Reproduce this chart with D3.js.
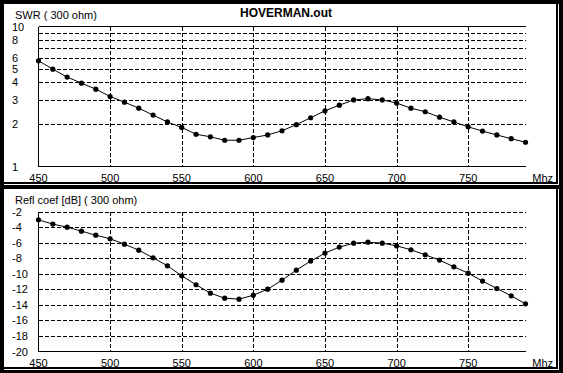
<!DOCTYPE html>
<html><head><meta charset="utf-8">
<script src="https://cdn.jsdelivr.net/npm/d3@7"></script>
<style>
html,body{margin:0;padding:0;background:#000;}
svg{display:block;}
text{font-family:"Liberation Sans",Arial,sans-serif;fill:#000;}
</style></head>
<body>
<script>
const title = "HOVERMAN.out";
const freqs = [450,460,470,480,490,500,510,520,530,540,550,560,570,580,590,600,610,620,630,640,650,660,670,680,690,700,710,720,730,740,750,760,770,780,790];
const swr = [5.69,4.96,4.35,3.94,3.57,3.16,2.88,2.61,2.33,2.08,1.90,1.70,1.63,1.54,1.54,1.61,1.68,1.80,1.99,2.23,2.50,2.74,2.99,3.05,2.99,2.84,2.61,2.46,2.25,2.08,1.92,1.79,1.68,1.58,1.49];
const refl = [-3.07,-3.62,-4.01,-4.53,-5.04,-5.51,-6.20,-6.97,-7.95,-8.98,-10.27,-11.42,-12.5,-13.14,-13.27,-12.76,-11.99,-10.83,-9.54,-8.38,-7.35,-6.58,-6.07,-5.94,-6.07,-6.41,-6.92,-7.57,-8.25,-9.11,-9.93,-10.95,-11.9,-12.84,-13.87];
const xTicks = [450,500,550,600,650,700,750];
const swrTicks = [1,2,3,4,5,6,8,10];
const swrGrid = [2,3,4,5,6,7,8,9];
const reflTicks = [-2,-4,-6,-8,-10,-12,-14,-16,-18,-20];
const xUnit = "Mhz";
const swrLabel = "SWR ( 300 ohm)";
const reflLabel = "Refl coef [dB] ( 300 ohm)";

const W = 563, H = 373;
const svg = d3.select("body").append("svg").attr("width", W).attr("height", H);
svg.append("rect").attr("width", W).attr("height", H).attr("fill", "#000");

const x = d3.scaleLinear().domain([450, 790]).range([38.5, 525.5]);

function panel(top, bottom, yScale, yTicks, yGrid, values, label, topDashed, showTitle) {
  const g = svg.append("g");
  g.append("rect").attr("x", 4).attr("y", top).attr("width", 552).attr("height", bottom - top).attr("fill", "#fff");
  // highlight lines
  g.append("line").attr("x1", 4).attr("x2", 559).attr("y1", bottom + 2.5).attr("y2", bottom + 2.5).attr("stroke", "#fff");
  g.append("line").attr("x1", 558.5).attr("x2", 558.5).attr("y1", top).attr("y2", bottom + 3).attr("stroke", "#fff");

  const [y0, y1] = yScale.range();
  // horizontal grid
  g.selectAll(".hg").data(yGrid).join("line")
    .attr("x1", x(450)).attr("x2", x(790))
    .attr("y1", d => Math.round(yScale(d)) + 0.5).attr("y2", d => Math.round(yScale(d)) + 0.5)
    .attr("stroke", "#000").attr("stroke-dasharray", "4,2").attr("shape-rendering", "crispEdges");
  // vertical grid
  g.selectAll(".vg").data(xTicks.slice(1)).join("line")
    .attr("x1", d => Math.round(x(d)) + 0.5).attr("x2", d => Math.round(x(d)) + 0.5)
    .attr("y1", y1).attr("y2", y0)
    .attr("stroke", "#000").attr("stroke-dasharray", "4,2").attr("shape-rendering", "crispEdges");
  // axes
  g.append("line").attr("x1", x(450)).attr("x2", x(450)).attr("y1", y1).attr("y2", y0).attr("stroke", "#000").attr("shape-rendering", "crispEdges");
  g.append("line").attr("x1", x(450)).attr("x2", x(790)).attr("y1", y0).attr("y2", y0).attr("stroke", "#000").attr("shape-rendering", "crispEdges");
  if (!topDashed) g.append("line").attr("x1", x(450)).attr("x2", x(790)).attr("y1", y1).attr("y2", y1).attr("stroke", "#000").attr("shape-rendering", "crispEdges");

  // y labels
  g.selectAll(".yl").data(yTicks).join("text")
    .attr("x", 12).attr("y", d => yScale(d) + 4)
    .attr("font-size", 11).text(d => d);
  // x labels
  g.selectAll(".xl").data(xTicks).join("text")
    .attr("x", d => x(d)).attr("y", y0 + 15.5).attr("text-anchor", "middle")
    .attr("font-size", 11).text(d => d);
  g.append("text").attr("x", 553).attr("y", y0 + 15.5).attr("text-anchor", "end").attr("font-size", 11).text(xUnit);
  g.append("text").attr("x", 15).attr("y", top + 14.5).attr("font-size", 11).text(label);
  if (showTitle) g.append("text").attr("x", 286).attr("y", top + 12.5).attr("text-anchor", "middle").attr("font-size", 12).attr("font-weight", "bold").text(title);

  const pts = freqs.map((f, i) => [x(f), yScale(values[i])]);
  g.append("path").attr("d", d3.line()(pts)).attr("fill", "none").attr("stroke", "#000").attr("stroke-width", 1);
  g.selectAll(".pt").data(pts).join("circle").attr("cx", d => d[0]).attr("cy", d => d[1]).attr("r", 2.6).attr("fill", "#000");
}

const ySwr = d3.scaleLog().domain([1, 10]).range([166.5, 26.5]);
const yRefl = d3.scaleLinear().domain([-20, -2]).range([351.5, 211.5]);

panel(4, 182, ySwr, swrTicks, swrGrid, swr, swrLabel, false, true);
panel(189, 367, yRefl, reflTicks, reflTicks.slice(0, -1), refl, reflLabel, true, false);
</script>
</body></html>
